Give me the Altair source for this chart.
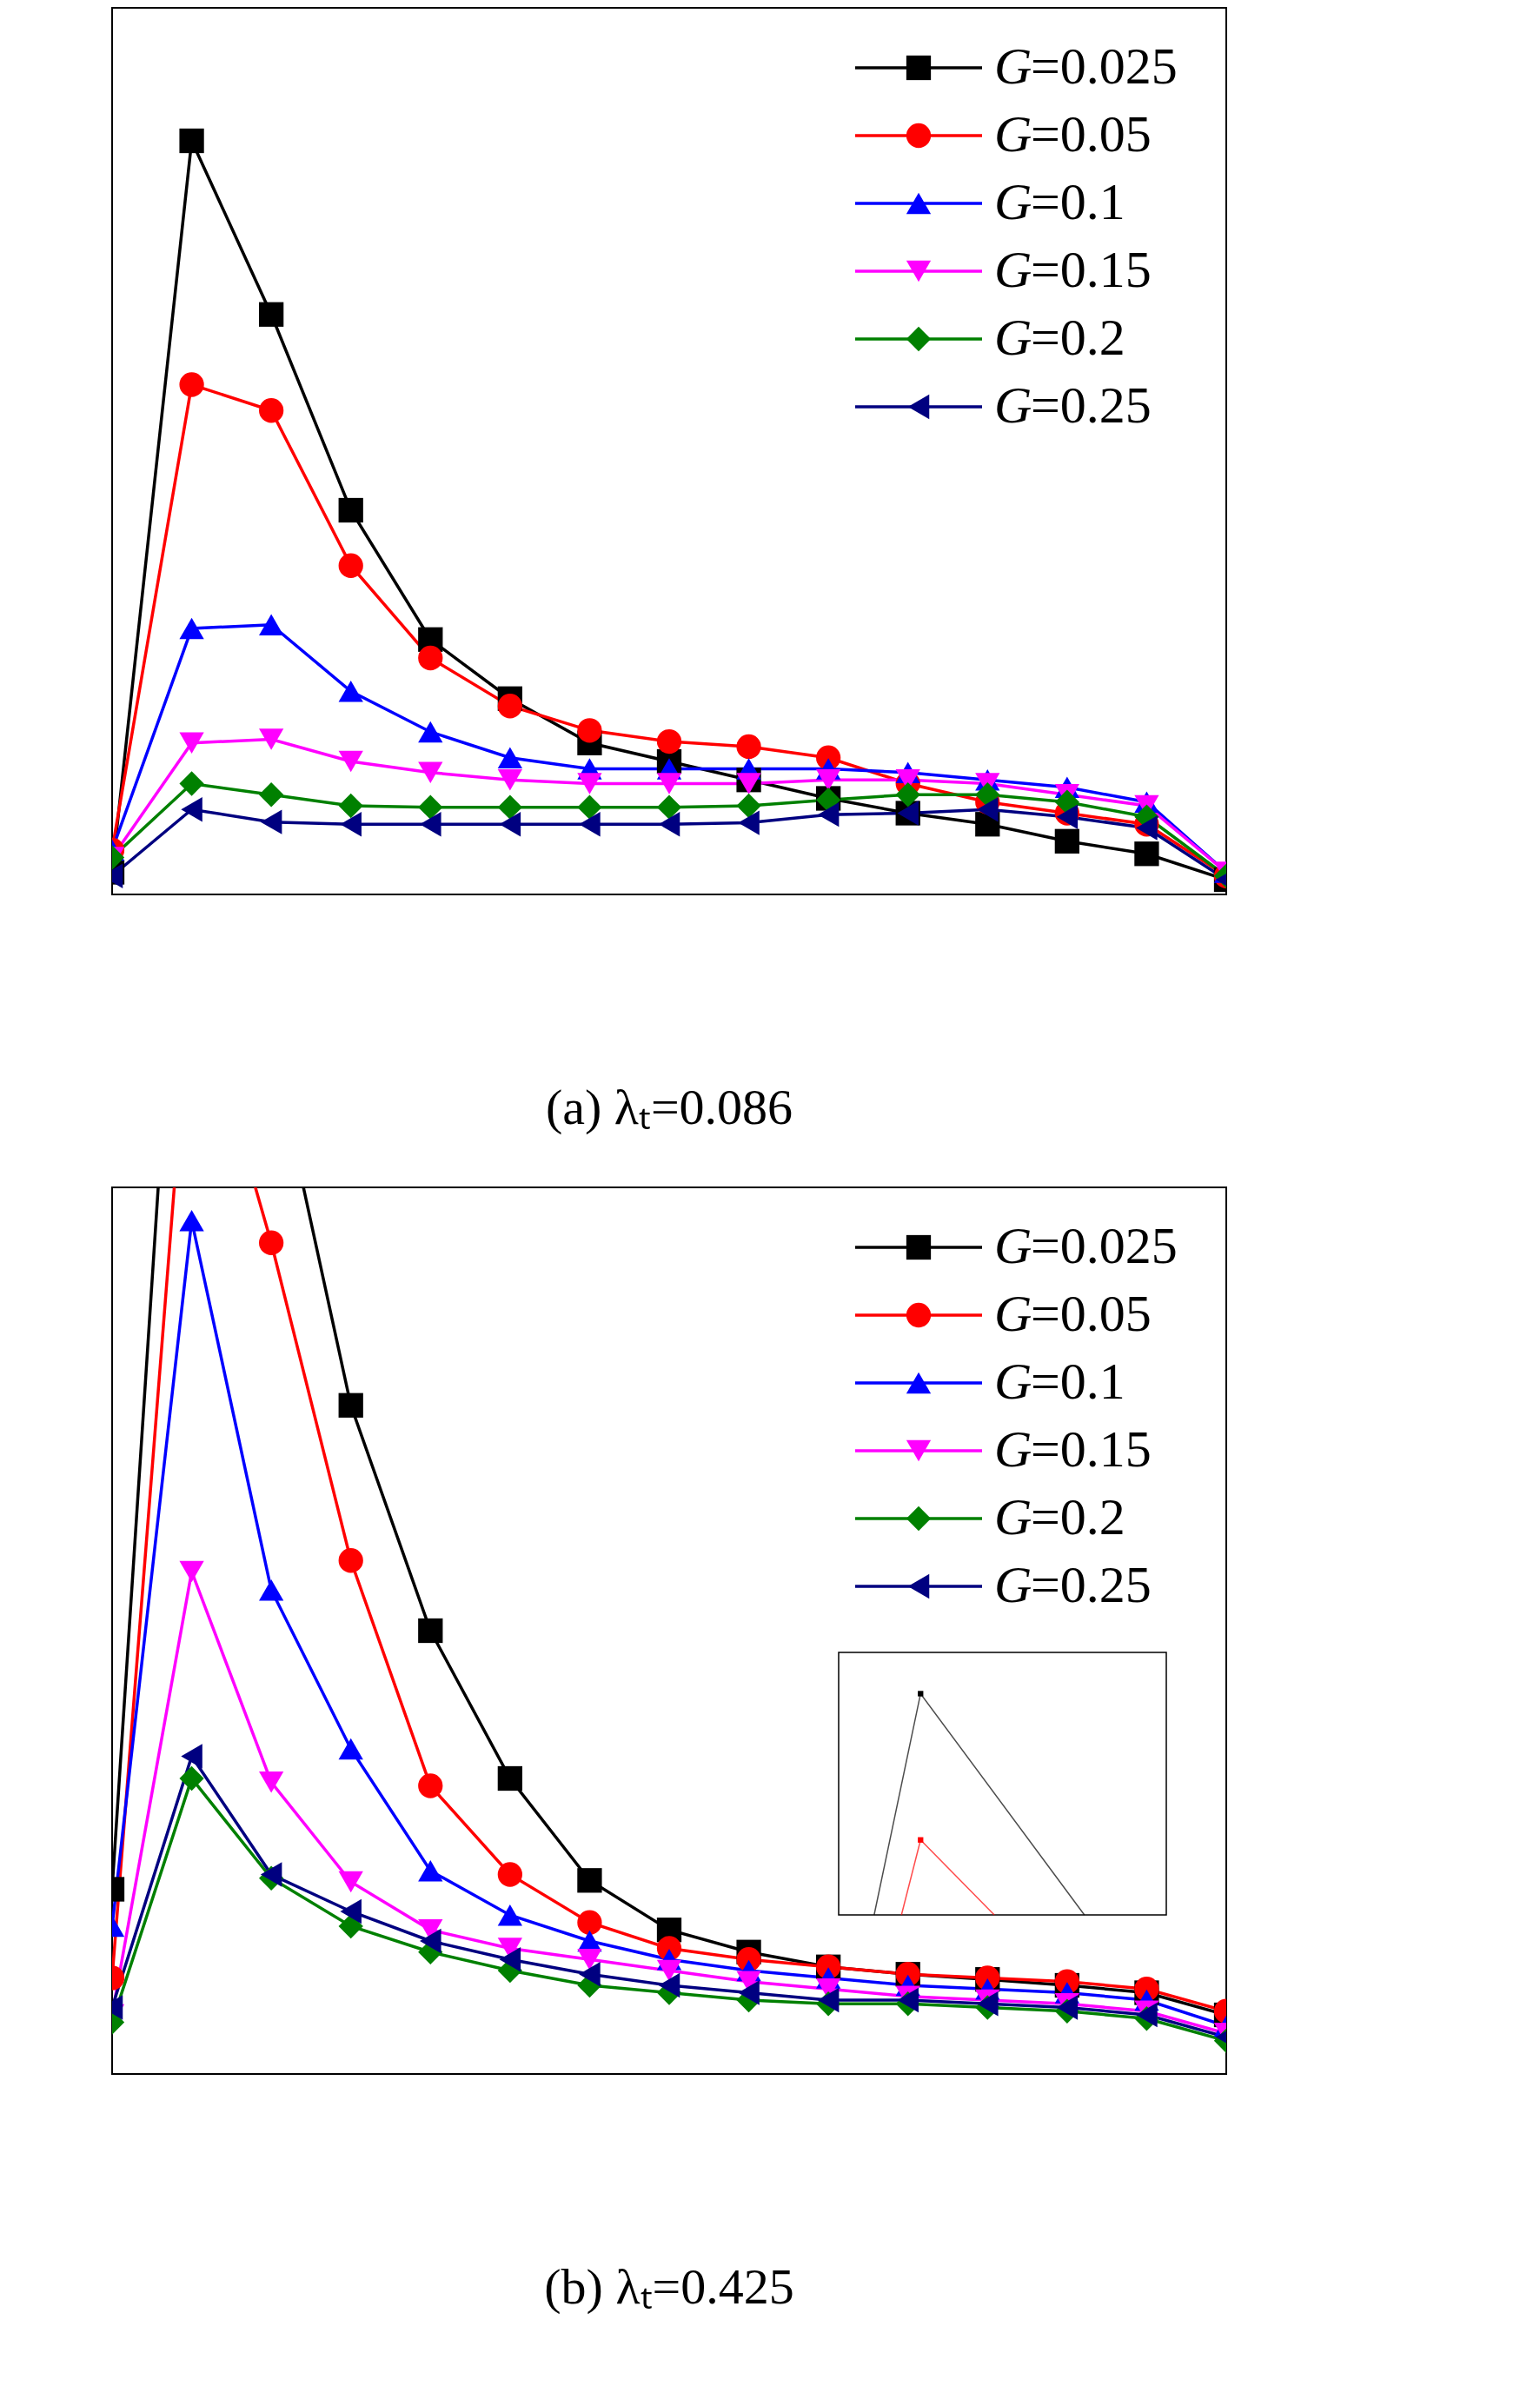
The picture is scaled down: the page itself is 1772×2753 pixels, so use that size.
import altair as alt
import pandas as pd

r_vals = [0.3, 0.35, 0.4, 0.45, 0.5, 0.55, 0.6, 0.65, 0.7, 0.75, 0.8, 0.85, 0.9, 0.95, 1.0]
series = ["G=0.025", "G=0.05", "G=0.1", "G=0.15", "G=0.2", "G=0.25"]
colors = ["#000000", "#ff0000", "#0000ff", "#ff00ff", "#008000", "#000080"]
shapes = ["square", "circle", "triangle-up", "triangle-down", "diamond", "triangle-left"]

# panel (a), lambda_t = 0.086
a_g0025 = [30, 1020, 785, 520, 345, 265, 205, 180, 155, 130, 110, 95, 72, 55, 20]
a_g005 = [60, 690, 655, 445, 320, 255, 222, 207, 200, 185, 150, 125, 110, 95, 25]
a_g01 = [60, 360, 365, 275, 220, 185, 170, 170, 170, 170, 165, 155, 145, 125, 30]
a_g015 = [50, 205, 210, 180, 165, 155, 150, 150, 150, 155, 155, 150, 135, 120, 30]
a_g02 = [50, 150, 135, 120, 118, 118, 118, 118, 120, 128, 135, 135, 125, 105, 25]
a_g025 = [25, 115, 98, 95, 95, 95, 95, 95, 97, 108, 110, 115, 105, 90, 20]

# panel (b), lambda_t = 0.425
b_g0025 = [250, 1890, 1400, 905, 600, 400, 262, 195, 165, 145, 135, 128, 120, 110, 80]
b_g005 = [130, 1500, 1125, 695, 390, 270, 205, 170, 155, 145, 135, 130, 125, 115, 85]
b_g01 = [200, 1155, 655, 440, 275, 215, 180, 155, 140, 130, 120, 115, 110, 100, 65]
b_g015 = [80, 680, 395, 260, 195, 170, 155, 140, 125, 115, 105, 100, 95, 85, 55]
b_g02 = [70, 400, 265, 200, 165, 140, 120, 110, 100, 95, 95, 90, 85, 75, 45]
b_g025 = [90, 430, 270, 220, 180, 155, 135, 120, 110, 100, 100, 95, 90, 80, 50]

# inset of (b): peak region (lines leave the box at 1300)
ins_r_black = [0.333, 0.35, 0.41]
ins_h_black = [1300, 1890, 1300]
ins_r_red = [0.343, 0.35, 0.377]
ins_h_red = [1300, 1500, 1300]
ins_x_dom = [0.32, 0.44]
ins_y_dom = [1300, 2000]

FONT = "Liberation Serif"
W, H = 1282, 1020


def long_df(cols):
    rows = []
    for name, vals in zip(series, cols):
        for r, h in zip(r_vals, vals):
            rows.append({"r": r, "h": h, "series": name})
    return pd.DataFrame(rows)


color_scale = alt.Scale(domain=series, range=colors)
shape_scale = alt.Scale(domain=series, range=shapes)


def panel(cols, caption):
    df = long_df(cols)
    xs = alt.Scale(domain=[0.3, 1.0], nice=False)
    ys = alt.Scale(domain=[0, 1200], nice=False)
    base = alt.Chart(df).encode(
        color=alt.Color("series:N", scale=color_scale, legend=None),
    )
    lines = base.mark_line(strokeWidth=3.5, clip=True).encode(
        x=alt.X("r:Q", scale=xs,
                axis=alt.Axis(values=[0.3, 0.4, 0.5, 0.6, 0.7, 0.8, 0.9, 1.0], format=".1f",
                              title="r/R", titleFontStyle="italic", titleFontWeight="normal",
                              titlePadding=30)),
        y=alt.Y("h:Q", scale=ys,
                axis=alt.Axis(values=list(range(0, 1201, 200)), format="d",
                              title="hᵣ/(W/(m²·K))", titleFontWeight="normal", titlePadding=20)),
        detail="series:N")
    points = base.mark_point(filled=True, size=800, opacity=1, clip=True).encode(
        x=alt.X("r:Q", scale=xs, axis=None),
        y=alt.Y("h:Q", scale=ys, axis=None),
        shape=alt.Shape("series:N", scale=shape_scale, legend=None))

    leg = pd.DataFrame({"series": series, "i": list(range(6))})
    lb = alt.Chart(leg).transform_calculate(
        ly="69 + datum.i * 78", x1="855", x2="1001", xs="928", xt="1015", xe="1057",
        val="slice(datum.series, 1)")
    leg_line = lb.mark_rule(strokeWidth=3.5).encode(
        x=alt.X("x1:Q", scale=None), x2="x2:Q", y=alt.Y("ly:Q", scale=None),
        color=alt.Color("series:N", scale=color_scale, legend=None))
    leg_pt = lb.mark_point(filled=True, size=800, opacity=1).encode(
        x=alt.X("xs:Q", scale=None), y=alt.Y("ly:Q", scale=None),
        color=alt.Color("series:N", scale=color_scale, legend=None),
        shape=alt.Shape("series:N", scale=shape_scale, legend=None))
    leg_g = lb.mark_text(align="left", baseline="middle", fontSize=60, font=FONT,
                         fontStyle="italic", text="G").encode(
        x=alt.X("xt:Q", scale=None), y=alt.Y("ly:Q", scale=None))
    leg_t = lb.mark_text(align="left", baseline="middle", fontSize=60, font=FONT).encode(
        x=alt.X("xe:Q", scale=None), y=alt.Y("ly:Q", scale=None), text="val:N")

    cap = alt.Chart(pd.DataFrame({"t": [caption]})).mark_text(
        fontSize=58, font=FONT, baseline="middle").encode(
        x=alt.value(W / 2), y=alt.value(H + 247), text="t:N")

    return alt.layer(lines, points, leg_line, leg_pt, leg_g, leg_t, cap)


panel_a = panel([a_g0025, a_g005, a_g01, a_g015, a_g02, a_g025],
                "(a) λₜ=0.086").properties(width=W, height=H)
main_b = panel([b_g0025, b_g005, b_g01, b_g015, b_g02, b_g025], "(b) λₜ=0.425")

# inset drawn in panel (b) on its own scales, mapped into a box of the plot
ix0, ix1, iy0, iy1 = 836, 1213, 837, 535
ins_xs = alt.Scale(domain=ins_x_dom, range=[ix0, ix1], nice=False, zero=False)
ins_ys = alt.Scale(domain=ins_y_dom, range=[iy0, iy1], nice=False, zero=False)
ins_df = pd.DataFrame({
    "r": ins_r_black + ins_r_red,
    "h": ins_h_black + ins_h_red,
    "series": [series[0]] * 3 + [series[1]] * 3,
})
box = alt.Chart(pd.DataFrame({"x": [ins_x_dom[0]], "x2": [ins_x_dom[1]],
                              "y": [ins_y_dom[0]], "y2": [ins_y_dom[1]]})).mark_rect(
    fill="white", stroke="black", strokeWidth=1.5).encode(
    x=alt.X("x:Q", scale=ins_xs,
            axis=alt.Axis(values=[0.32, 0.34, 0.36, 0.38, 0.40, 0.42, 0.44], format=".2f",
                          title=None, labelFontSize=30, tickSize=6, grid=False,
                          orient="bottom", offset=iy0 - H, domain=False)),
    x2="x2:Q",
    y=alt.Y("y:Q", scale=ins_ys,
            axis=alt.Axis(values=list(range(1300, 2001, 100)), format="d", title=None,
                          labelFontSize=30, tickSize=6, grid=False, labelPadding=4,
                          orient="left", offset=-ix0, domain=False)),
    y2="y2:Q",
)
ins_base = alt.Chart(ins_df).encode(
    x=alt.X("r:Q", scale=ins_xs, axis=None),
    y=alt.Y("h:Q", scale=ins_ys, axis=None),
    color=alt.Color("series:N", scale=color_scale, legend=None),
)
inset = alt.layer(
    box,
    ins_base.mark_line(strokeWidth=1.5, opacity=0.7),
    ins_base.transform_filter("datum.h > 1300").mark_point(
        filled=True, size=40, opacity=1, shape="square"),
)

panel_b = alt.layer(main_b, inset).resolve_scale(
    x="independent", y="independent").resolve_axis(
    x="independent", y="independent").properties(width=W, height=H)

chart = alt.vconcat(panel_a, panel_b, spacing=337, bounds="flush").properties(
    padding={"left": 120, "top": 0, "right": 20, "bottom": 20}
).configure(font=FONT).configure_axis(
    labelFont=FONT, titleFont=FONT, labelFontSize=58, titleFontSize=60,
    labelColor="black", titleColor="black", domainColor="black", tickColor="black",
    domainWidth=2, tickWidth=2, tickSize=10, grid=False, labelPadding=8,
).configure_view(stroke="black", strokeWidth=2)

chart.save("out.html", embed_options={"renderer": "svg", "actions": False})
